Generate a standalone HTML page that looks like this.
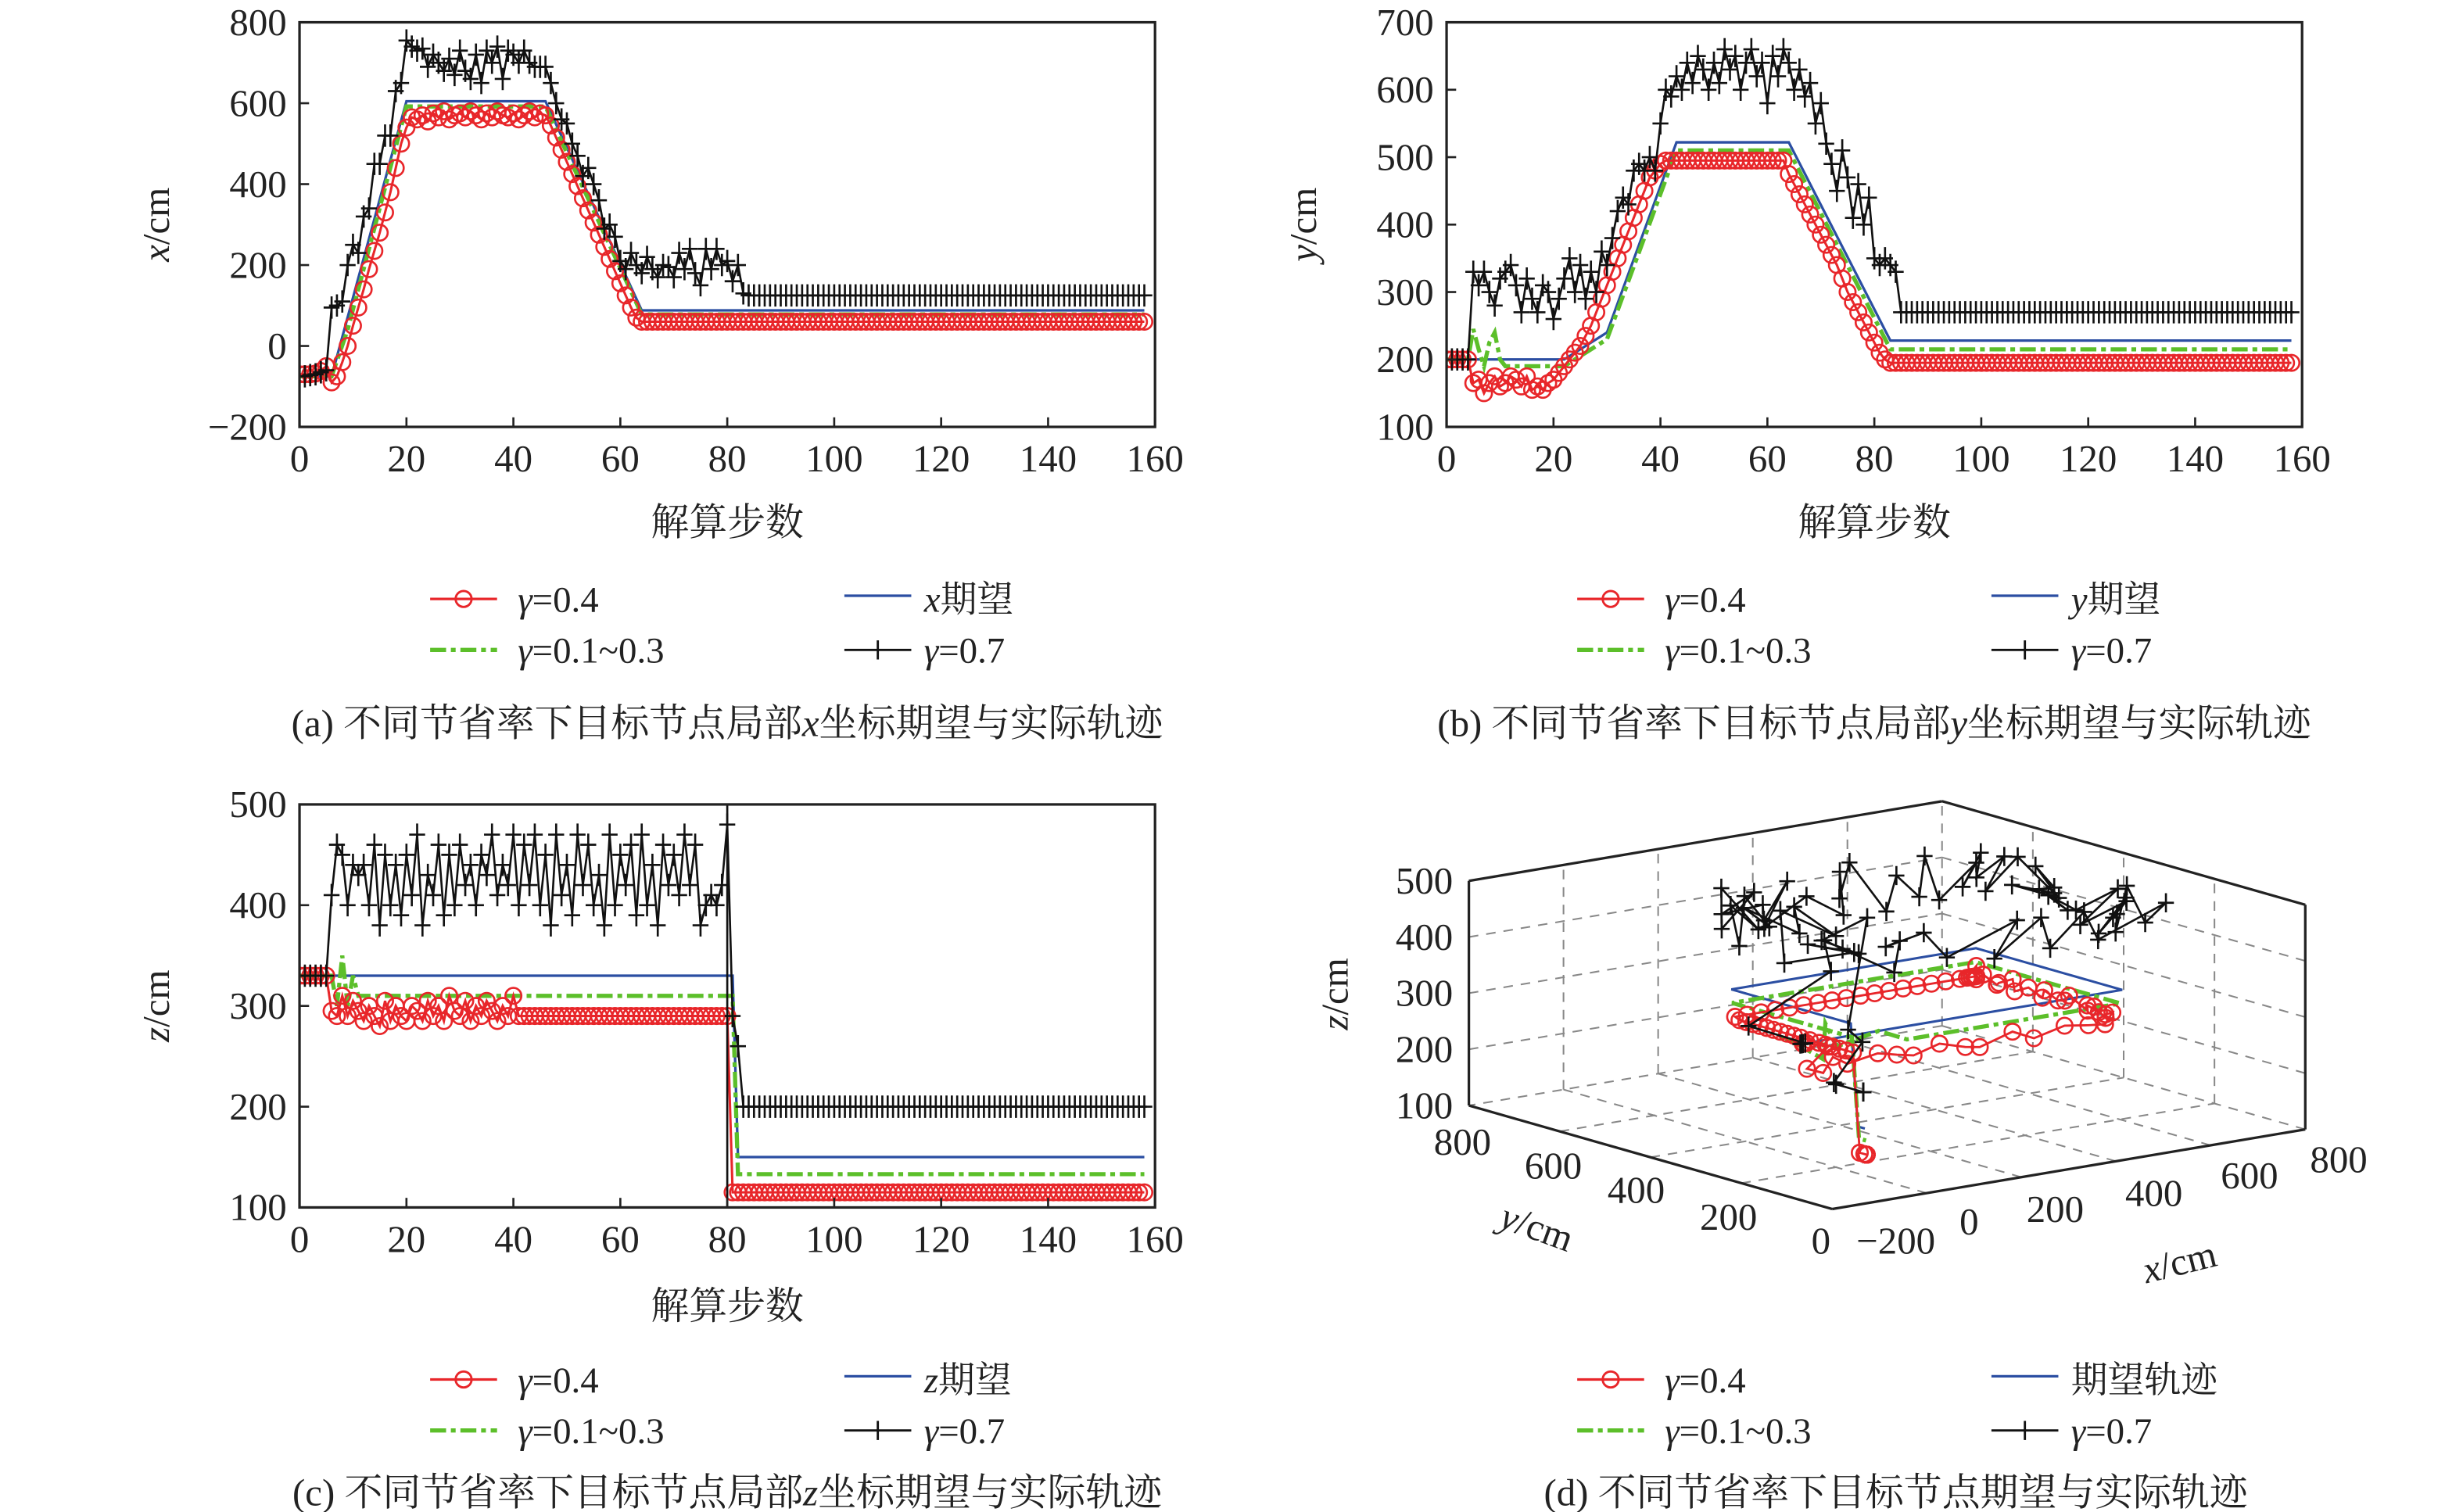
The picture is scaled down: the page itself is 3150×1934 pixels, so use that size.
<!DOCTYPE html>
<html><head><meta charset="utf-8">
<style>
html,body{margin:0;padding:0;background:#fff;}
svg{display:block;}
text{font-family:"Liberation Serif","Noto Serif CJK SC","Noto Sans CJK SC",serif;fill:#222;}
</style></head>
<body>
<svg id="fig" xmlns="http://www.w3.org/2000/svg" width="3150" height="1934" viewBox="0 0 1546 949.2" preserveAspectRatio="none"></svg>
<script>
// ---------- data (steps 0..158) ----------
const redX=[-70,-70,-70,-68,-62,-50,-90,-75,-40,0,50,95,140,190,235,280,330,380,440,500,540,565,
560,570,555,575,565,580,560,570,575,565,580,570,560,575,565,580,570,565,575,560,570,580,565,575,570,
545,515,485,455,425,395,365,335,305,275,245,215,185,155,125,95,70,
60,60,60,60,60,60,60,60,60,60,60,60,60,60,60,60,60,60,60,
60,60,60,60,60,60,60,60,60,60,60,60,60,60,60,60,60,60,60,
60,60,60,60,60,60,60,60,60,60,60,60,60,60,60,60,60,60,60,
60,60,60,60,60,60,60,60,60,60,60,60,60,60,60,60,60,60,60,
60,60,60,60,60,60,60,60,60,60,60,60,60,60,60,60,60,60,60];
const blackX=[-75,-75,-72,-70,-65,-60,95,100,110,200,250,230,320,340,450,450,520,520,630,650,
755,740,730,735,690,720,700,680,710,670,730,680,660,720,650,730,700,740,660,730,
720,700,730,700,690,690,690,650,600,560,550,500,470,420,440,400,360,290,300,270,
210,190,230,200,180,220,190,170,200,195,170,230,190,240,180,150,240,190,240,200,
210,160,200,130,
125,125,125,125,125,125,125,125,125,125,125,125,125,125,125,
125,125,125,125,125,125,125,125,125,125,125,125,125,125,125,
125,125,125,125,125,125,125,125,125,125,125,125,125,125,125,
125,125,125,125,125,125,125,125,125,125,125,125,125,125,125,
125,125,125,125,125,125,125,125,125,125,125,125,125,125,125];
const redY=[200,200,200,200,200,165,170,150,165,175,160,165,175,170,160,175,155,160,155,165,
170,180,190,200,210,220,235,250,270,290,310,330,350,370,390,410,430,450,470,480,
490,495,
495,495,495,495,495,495,495,495,495,495,495,495,495,495,495,495,495,495,495,495,495,495,
475,460,445,430,415,400,385,370,355,340,320,300,285,270,255,240,225,210,200,
195,195,195,195,195,195,195,195,195,195,195,195,195,195,195,195,195,195,195,
195,195,195,195,195,195,195,195,195,195,195,195,195,195,195,195,195,195,195,
195,195,195,195,195,195,195,195,195,195,195,195,195,195,195,195,195,195,195,
195,195,195,195,195,195,195,195,195,195,195,195,195,195,195,195,195,195,195];
const blackY=[200,200,200,200,200,330,310,330,300,280,320,330,340,310,270,320,290,270,310,300,
260,290,320,350,300,340,290,330,300,360,340,380,420,440,430,480,490,480,500,480,
550,600,590,620,600,640,610,650,630,600,640,610,660,630,650,600,640,660,620,640,
580,650,620,660,640,600,630,590,610,550,580,520,490,450,510,470,410,460,400,440,
350,340,350,340,330,
270,270,270,270,270,270,270,270,270,270,270,270,270,270,270,270,270,270,270,270,270,270,270,270,270,270,270,270,270,270,270,270,270,270,270,270,270,
270,270,270,270,270,270,270,270,270,270,270,270,270,270,270,270,270,270,270,270,270,270,270,270,270,270,270,270,270,270,270,270,270,270,270,270,270];
const redZ=[330,330,330,330,330,330,
295,290,310,290,305,295,285,300,290,280,305,285,300,290,285,300,295,285,305,290,300,285,310,295,290,305,285,300,290,305,295,285,300,290,310,
290,290,290,290,290,290,290,290,290,290,290,290,290,290,290,290,290,290,290,290,
290,290,290,290,290,290,290,290,290,290,290,290,290,290,290,290,290,290,290,290,
115,115,115,115,115,115,115,115,115,115,115,115,115,115,115,115,115,115,115,115,115,115,115,115,115,115,
115,115,115,115,115,115,115,115,115,115,115,115,115,115,115,115,115,115,115,115,115,115,115,115,115,115,
115,115,115,115,115,115,115,115,115,115,115,115,115,115,115,115,115,115,115,115,115,115,115,115,115,115];
const blackZ=[330,330,330,330,330,330,
410,460,450,400,440,430,440,400,460,380,450,400,440,390,450,410,470,380,430,410,
460,390,450,400,460,420,440,400,450,430,470,410,440,420,470,400,460,420,470,400,
450,380,470,410,440,390,470,420,460,400,430,380,470,400,450,420,460,390,470,400,
440,380,460,420,450,410,470,420,460,380,400,410,400,420,480,
290,260,
200,200,200,200,200,200,200,200,200,200,200,200,200,200,200,200,200,200,200,
200,200,200,200,200,200,200,200,200,200,200,200,200,200,200,200,200,200,200,
200,200,200,200,200,200,200,200,200,200,200,200,200,200,200,200,200,200,200,
200,200,200,200,200,200,200,200,200,200,200,200,200,200,200,200,200,200,200];
// piecewise expected / gamma 0.1~0.3 curves (breakpoint steps + values)
const blueXSteps=[0,6,20,46,64,158], blueXVals=[-75,-75,605,605,88,88];
const greenXSteps=[0,6,9,20,46,64,158], greenXVals=[-75,-75,40,592,592,78,78];
const blueYSteps=[0,22,30,43,64,83,158], blueYVals=[200,200,240,522,522,228,228];
const greenYSteps=[0,4,5,6,7,8,9,10,11,22,30,43,64,83,158], greenYVals=[200,200,245,215,190,225,240,200,190,190,230,510,510,215,215];
const blueZSteps=[0,81,82,158], blueZVals=[330,330,150,150];
const greenZSteps=[0,6,7,8,9,10,11,81,82,158], greenZVals=[330,330,300,350,300,330,310,310,133,133];
const xTicks=[0,20,40,60,80,100,120,140,160];
const yTicksA=[-200,0,200,400,600,800], yTicksB=[100,200,300,400,500,600,700], yTicksC=[100,200,300,400,500];

const NS='http://www.w3.org/2000/svg';
const svg=document.getElementById('fig');
function el(tag,attrs,parent){const e=document.createElementNS(NS,tag);for(const k in attrs)e.setAttribute(k,attrs[k]);(parent||svg).appendChild(e);return e;}
function fmt(v){return v<0?'\u2212'+(-v):String(v);}
function pw(steps,vals,t){for(let i=0;i<steps.length-1;i++){if(t<=steps[i+1]){const a=steps[i],b=steps[i+1];const f=b===a?1:(t-a)/(b-a);return vals[i]+(vals[i+1]-vals[i])*f;}}return vals[vals.length-1];}
const RED='#e8262a',GREEN='#5cbf2a',BLUE='#2b4ea2',BLACK='#111';

function legend(g,x1,x2,y,lab){
  let l=el('line',{x1:270+x1,y1:y,x2:312+x1,y2:y,stroke:RED,'stroke-width':1.6},g);
  
  el('circle',{cx:291+x1,cy:y,r:5,fill:'none',stroke:RED,'stroke-width':1.4},g);
  let t=el('text',{x:325+x1,y:y+8,'font-size':23},g);t.innerHTML='<tspan font-style="italic">γ</tspan>=0.4';
  
  l=el('line',{x1:530+x2,y1:y-2,x2:572+x2,y2:y-2,stroke:BLUE,'stroke-width':1.6},g);
  
  t=el('text',{x:580+x2,y:y+8,'font-size':23},g);t.innerHTML=lab;
  
  const y2=y+32;
  l=el('line',{x1:270+x1,y1:y2,x2:312+x1,y2:y2,stroke:GREEN,'stroke-width':2.6,'stroke-dasharray':'10,3,3,3'},g);
  
  t=el('text',{x:325+x1,y:y2+8,'font-size':23},g);t.innerHTML='<tspan font-style="italic">γ</tspan>=0.1~0.3';
  
  l=el('line',{x1:530+x2,y1:y2,x2:572+x2,y2:y2,stroke:BLACK,'stroke-width':1.4},g);
  
  el('line',{x1:551+x2,y1:y2-6,x2:551+x2,y2:y2+6,stroke:BLACK,'stroke-width':1.4},g);
  t=el('text',{x:580+x2,y:y2+8,'font-size':23},g);t.innerHTML='<tspan font-style="italic">γ</tspan>=0.7';
  
}

function panel(name,L,R,T,B,ymin,ymax,yticks,red,black,bS,bV,gS,gV,ylab,xlabY,legY,legLab,cap,capY,extra){
  const g=el('g',{});
  
  const sx=t=>L+t/160*(R-L), sy=v=>B-(v-ymin)/(ymax-ymin)*(B-T);
  const cid=name+'-clip';
  const cp=el('clipPath',{id:cid},g);el('rect',{x:L,y:T,width:R-L,height:B-T},cp);
  const pg=el('g',{'clip-path':'url(#'+cid+')'},g);
  
  let pts=bS.map((s,i)=>sx(s)+','+sy(bV[i])).join(' ');
  let p=el('polyline',{points:pts,fill:'none',stroke:BLUE,'stroke-width':1.6},pg);
  
  pts=gS.map((s,i)=>sx(s)+','+sy(gV[i])).join(' ');
  p=el('polyline',{points:pts,fill:'none',stroke:GREEN,'stroke-width':2.6,'stroke-dasharray':'10,3,3,3'},pg);
  
  pts=red.map((v,t)=>sx(t)+','+sy(v)).join(' ');
  p=el('polyline',{points:pts,fill:'none',stroke:RED,'stroke-width':1.5},pg);
  
  red.forEach((v,t)=>{const c=el('circle',{cx:sx(t),cy:sy(v),r:5,fill:'none',stroke:RED,'stroke-width':1.3},pg);
    });
  pts=black.map((v,t)=>sx(t)+','+sy(v)).join(' ');
  p=el('polyline',{points:pts,fill:'none',stroke:BLACK,'stroke-width':1.3},pg);
  
  black.forEach((v,t)=>{const x=sx(t),y=sy(v);
    const m=el('path',{d:`M${x-5},${y}H${x+5}M${x},${y-7}V${y+7}`,stroke:BLACK,'stroke-width':1.3},pg);
    });
  if(extra)extra(pg,sx,sy);
  const fr=el('rect',{x:L,y:T,width:R-L,height:B-T,fill:'none',stroke:'#222','stroke-width':1.6},g);
  
  xTicks.forEach(v=>{el('line',{x1:sx(v),y1:B,x2:sx(v),y2:B-6,stroke:'#222','stroke-width':1.3},g);
    const t=el('text',{x:sx(v),y:B+28,'font-size':24,'text-anchor':'middle'},g);t.textContent=v;
    });
  yticks.forEach(v=>{el('line',{x1:L,y1:sy(v),x2:L+6,y2:sy(v),stroke:'#222','stroke-width':1.3},g);
    const t=el('text',{x:L-8,y:sy(v)+8,'font-size':24,'text-anchor':'end'},g);t.textContent=fmt(v);
    });
  let t=el('text',{x:0,y:0,'font-size':24,'text-anchor':'middle',transform:`translate(${L-82},${(T+B)/2}) rotate(-90)`},g);
  t.innerHTML='<tspan font-style="italic">'+ylab+'</tspan>/cm';
  
  t=el('text',{x:(L+R)/2,y:xlabY,'font-size':24,'text-anchor':'middle'},g);t.textContent='解算步数';
  
  legend(g,L-188,L-188,legY,'<tspan font-style="italic">'+ylab+'</tspan>期望');
  t=el('text',{x:(L+R)/2,y:capY,'font-size':24,'text-anchor':'middle'},g);t.innerHTML=cap;
  
}

panel('panel-a-x',188,725,14,268,-200,800,yTicksA,redX,blackX,blueXSteps,blueXVals,greenXSteps,greenXVals,'x',336,376,'','(a) 不同节省率下目标节点局部<tspan font-style="italic">x</tspan>坐标期望与实际轨迹',462);
panel('panel-b-y',908,1445,14,268,100,700,yTicksB,redY,blackY,blueYSteps,blueYVals,greenYSteps,greenYVals,'y',336,376,'','(b) 不同节省率下目标节点局部<tspan font-style="italic">y</tspan>坐标期望与实际轨迹',462);
panel('panel-c-z',188,725,505,758,100,500,yTicksC,redZ,blackZ,blueZSteps,blueZVals,greenZSteps,greenZVals,'z',828,866,'','(c) 不同节省率下目标节点局部<tspan font-style="italic">z</tspan>坐标期望与实际轨迹',945,
  (pg,sx,sy)=>{const l=el('line',{x1:sx(80),y1:sy(520),x2:sx(80),y2:sy(80),stroke:BLACK,'stroke-width':1.3},pg);
   });

// ---------- panel d (3D) ----------
(function(){
  const g=el('g',{});
  
  const P=(x,y,z)=>[922+(x+200)*0.297+(800-y)*0.285, 694-(x+200)*0.05+(800-y)*0.08125-(z-100)*0.3525];
  const dash={stroke:'#888','stroke-width':1,'stroke-dasharray':'6,5',fill:'none'};
  const line=(a,b,attrs,nm)=>{const l=el('line',Object.assign({x1:a[0],y1:a[1],x2:b[0],y2:b[1]},attrs),g);
    return l;};
  [200,300,400].forEach(z=>{line(P(-200,800,z),P(800,800,z),dash,'grid-line');line(P(800,800,z),P(800,0,z),dash,'grid-line');});
  [0,200,400,600].forEach(x=>{line(P(x,800,100),P(x,800,500),dash,'grid-line');line(P(x,800,100),P(x,0,100),dash,'grid-line');});
  [200,400,600].forEach(y=>{line(P(800,y,100),P(800,y,500),dash,'grid-line');line(P(-200,y,100),P(800,y,100),dash,'grid-line');});
  line(P(800,800,100),P(800,800,500),dash,'grid-line');
  line(P(800,800,100),P(-200,800,100),dash,'grid-line');line(P(800,800,100),P(800,0,100),dash,'grid-line');
  const solid={stroke:'#222','stroke-width':1.6};
  line(P(-200,800,100),P(-200,0,100),solid,'y-axis');line(P(-200,0,100),P(800,0,100),solid,'x-axis');
  line(P(-200,800,100),P(-200,800,500),solid,'z-axis');line(P(800,0,100),P(800,0,500),solid,'box-edge');
  line(P(-200,800,500),P(800,800,500),solid,'box-edge');line(P(800,800,500),P(800,0,500),solid,'box-edge');
  const N=redX.length, ts=[...Array(N).keys()];
  const poly=(arr,attrs,nm)=>{const p=el('polyline',Object.assign({points:arr.map(q=>q.join(',')).join(' '),fill:'none'},attrs),g);
    };
  poly(ts.map(t=>P(pw(blueXSteps,blueXVals,t),pw(blueYSteps,blueYVals,t),pw(blueZSteps,blueZVals,t))),{stroke:BLUE,'stroke-width':1.5},'expected-trajectory');
  poly(ts.map(t=>P(pw(greenXSteps,greenXVals,t),pw(greenYSteps,greenYVals,t),pw(greenZSteps,greenZVals,t))),{stroke:GREEN,'stroke-width':2.6,'stroke-dasharray':'10,3,3,3'},'gamma-01-03-trajectory');
  const rp=ts.map(t=>P(redX[t],redY[t],redZ[t]));
  poly(rp,{stroke:RED,'stroke-width':1.4},'gamma-04-trajectory');
  rp.forEach(q=>{const c=el('circle',{cx:q[0],cy:q[1],r:5,fill:'none',stroke:RED,'stroke-width':1.3},g);
    });
  const bp=ts.map(t=>P(blackX[t],blackY[t],blackZ[t]));
  poly(bp,{stroke:BLACK,'stroke-width':1.3},'gamma-07-trajectory');
  bp.forEach(q=>{const m=el('path',{d:`M${q[0]-5},${q[1]}H${q[0]+5}M${q[0]},${q[1]-6}V${q[1]+6}`,stroke:BLACK,'stroke-width':1.3},g);
    });
  const txt=(x,y,s,attrs,nm)=>{const t=el('text',Object.assign({x:x,y:y,'font-size':24},attrs||{}),g);t.innerHTML=s;
    return t;};
  [100,200,300,400,500].forEach(z=>{const q=P(-200,800,z);txt(q[0]-10,q[1]+8,z,{'text-anchor':'end'},'z-tick-label');});
  [[800,918,725],[600,975,740],[400,1027,755],[200,1085,772],[0,1143,787]].forEach(a=>txt(a[1],a[2],a[0],{'text-anchor':'middle'},'y-tick-label'));
  [[-200,1190,787],[0,1236,775],[200,1290,767],[400,1352,757],[600,1412,746],[800,1468,736]].forEach(a=>txt(a[1],a[2],fmt(a[0]),{'text-anchor':'middle'},'x-tick-label'));
  txt(0,0,'<tspan font-style="italic">y</tspan>/cm',{transform:'translate(962,778) rotate(20)','text-anchor':'middle'},'y-axis-title');
  txt(0,0,'<tspan font-style="italic">x</tspan>/cm',{transform:'translate(1370,800) rotate(-14)','text-anchor':'middle'},'x-axis-title');
  txt(0,0,'<tspan font-style="italic">z</tspan>/cm',{transform:'translate(846,624) rotate(-90)','text-anchor':'middle'},'z-axis-title');
  legend(g,720,720,866,'期望轨迹');
  txt(1190,945,'(d) 不同节省率下目标节点期望与实际轨迹',{'text-anchor':'middle'},'caption');
})();
</script>
</body></html>
